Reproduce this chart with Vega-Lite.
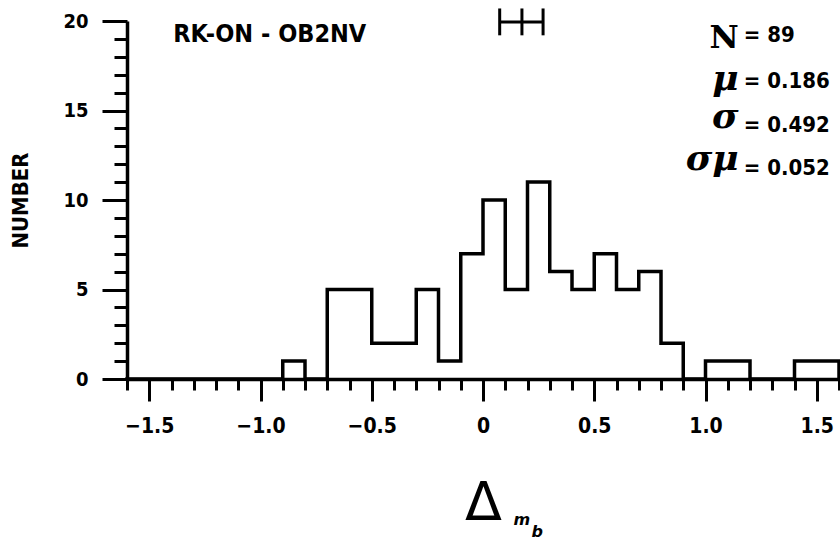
{
  "$schema": "https://vega.github.io/schema/vega-lite/v6.json",
  "width": 712,
  "height": 358,
  "autosize": {"type": "none"},
  "padding": {"left": 127, "top": 21, "right": 1, "bottom": 161},
  "background": "white",
  "config": {"view": {"stroke": null}, "axis": {"grid": false}},
  "datasets": {
    "hist": [
      {"edge": -1.6, "count": 0}, {"edge": -1.5, "count": 0}, {"edge": -1.4, "count": 0}, {"edge": -1.3, "count": 0},
      {"edge": -1.2, "count": 0}, {"edge": -1.1, "count": 0}, {"edge": -1.0, "count": 0}, {"edge": -0.9, "count": 1},
      {"edge": -0.8, "count": 0}, {"edge": -0.7, "count": 5}, {"edge": -0.6, "count": 5}, {"edge": -0.5, "count": 2},
      {"edge": -0.4, "count": 2}, {"edge": -0.3, "count": 5}, {"edge": -0.2, "count": 1}, {"edge": -0.1, "count": 7},
      {"edge": 0.0, "count": 10}, {"edge": 0.1, "count": 5}, {"edge": 0.2, "count": 11}, {"edge": 0.3, "count": 6},
      {"edge": 0.4, "count": 5}, {"edge": 0.5, "count": 7}, {"edge": 0.6, "count": 5}, {"edge": 0.7, "count": 6},
      {"edge": 0.8, "count": 2}, {"edge": 0.9, "count": 0}, {"edge": 1.0, "count": 1}, {"edge": 1.1, "count": 1},
      {"edge": 1.2, "count": 0}, {"edge": 1.3, "count": 0}, {"edge": 1.4, "count": 1}, {"edge": 1.5, "count": 1},
      {"edge": 1.6, "count": 0}
    ],
    "titleText": [{"x": -1.392, "y": 18.83, "t": "RK-ON  -  OB2NV"}],
    "symN": [{"x": 1.149, "y": 18.5, "t": "N"}],
    "symGreek": [
      {"x": 1.149, "y": 16.15, "t": "μ"},
      {"x": 1.149, "y": 14.02, "t": "σ"},
      {"x": 1.149, "y": 11.68, "t": "σμ"}
    ],
    "stats": [
      {"x": 1.172, "y": 18.83, "t": "= 89"},
      {"x": 1.172, "y": 16.26, "t": "= 0.186"},
      {"x": 1.172, "y": 13.8, "t": "= 0.492"},
      {"x": 1.172, "y": 11.4, "t": "= 0.052"}
    ],
    "errbar": [{"lo": 0.075, "mid": 0.175, "hi": 0.27, "y": 19.94}],
    "errticks": [{"x": 0.075}, {"x": 0.175}, {"x": 0.27}],
    "sub": [
      {"x": 0.137, "y": -8.16, "t": "m"},
      {"x": 0.218, "y": -8.83, "t": "b"}
    ]
  },
  "layer": [
    {
      "data": {"name": "hist"},
      "mark": {"type": "line", "interpolate": "step-after", "color": "black", "strokeWidth": 3.5, "strokeJoin": "miter", "strokeCap": "square"},
      "encoding": {
        "x": {
          "field": "edge", "type": "quantitative",
          "scale": {"domain": [-1.6, 1.6], "nice": false, "zero": false},
          "axis": {
            "values": [-1.6, -1.5, -1.4, -1.3, -1.2, -1.1, -1.0, -0.9, -0.8, -0.7, -0.6, -0.5, -0.4, -0.3, -0.2, -0.1, 0, 0.1, 0.2, 0.3, 0.4, 0.5, 0.6, 0.7, 0.8, 0.9, 1.0, 1.1, 1.2, 1.3, 1.4, 1.5, 1.6],
            "tickCount": 200,
            "labelExpr": "(abs(round(datum.value*10)) % 5 == 0 && abs(datum.value) <= 1.5) ? (datum.value == 0 ? '0' : format(datum.value, '.1f')) : ''",
            "tickSize": {"condition": {"test": "abs(round(datum.value*10)) % 5 == 0", "value": 22}, "value": 11},
            "tickWidth": 3,
            "tickColor": "black",
            "domainColor": "black",
            "domainWidth": 3.5,
            "labelFont": "DejaVu Sans Condensed",
            "labelFontWeight": "bold",
            "labelFontSize": 21,
            "labelColor": "black",
            "labelPadding": 14,
            "labelFlush": false,
            "labelOverlap": false,
            "labelBaseline": "top",
            "title": "Δ",
            "titleFont": "DejaVu Sans",
            "titleFontWeight": "normal",
            "titleFontSize": 54,
            "titleColor": "black",
            "titlePadding": 40
          }
        },
        "y": {
          "field": "count", "type": "quantitative",
          "scale": {"domain": [0, 20], "nice": false},
          "axis": {
            "values": [0, 1, 2, 3, 4, 5, 6, 7, 8, 9, 10, 11, 12, 13, 14, 15, 16, 17, 18, 19, 20],
            "tickCount": 200,
            "labelExpr": "datum.value % 5 == 0 ? format(datum.value, 'd') : ''",
            "tickSize": {"condition": {"test": "datum.value % 5 == 0", "value": 25}, "value": 13},
            "tickWidth": 3,
            "tickColor": "black",
            "domainColor": "black",
            "domainWidth": 3.5,
            "labelFont": "DejaVu Sans Condensed",
            "labelFontWeight": "bold",
            "labelFontSize": 20,
            "labelColor": "black",
            "labelPadding": 14,
            "labelFlush": false,
            "labelOverlap": false,
            "title": "NUMBER",
            "titleFont": "DejaVu Sans Condensed",
            "titleFontWeight": "bold",
            "titleFontSize": 22,
            "titleColor": "black",
            "titlePadding": 30
          }
        }
      }
    },
    {
      "data": {"name": "titleText"},
      "mark": {"type": "text", "align": "left", "baseline": "alphabetic", "font": "DejaVu Sans Condensed", "fontWeight": "bold", "fontSize": 25, "color": "black"},
      "encoding": {"x": {"field": "x", "type": "quantitative"}, "y": {"field": "y", "type": "quantitative"}, "text": {"field": "t"}}
    },
    {
      "data": {"name": "symN"},
      "mark": {"type": "text", "align": "right", "baseline": "alphabetic", "font": "DejaVu Serif", "fontWeight": "bold", "fontSize": 32, "color": "black"},
      "encoding": {"x": {"field": "x", "type": "quantitative"}, "y": {"field": "y", "type": "quantitative"}, "text": {"field": "t"}}
    },
    {
      "data": {"name": "symGreek"},
      "mark": {"type": "text", "align": "right", "baseline": "alphabetic", "font": "DejaVu Serif", "fontWeight": "bold", "fontStyle": "italic", "fontSize": 36, "color": "black"},
      "encoding": {"x": {"field": "x", "type": "quantitative"}, "y": {"field": "y", "type": "quantitative"}, "text": {"field": "t"}}
    },
    {
      "data": {"name": "stats"},
      "mark": {"type": "text", "align": "left", "baseline": "alphabetic", "font": "DejaVu Sans Condensed", "fontWeight": "bold", "fontSize": 22, "color": "black"},
      "encoding": {"x": {"field": "x", "type": "quantitative"}, "y": {"field": "y", "type": "quantitative"}, "text": {"field": "t"}}
    },
    {
      "data": {"name": "errbar"},
      "mark": {"type": "rule", "color": "black", "strokeWidth": 3},
      "encoding": {"x": {"field": "lo", "type": "quantitative"}, "x2": {"field": "hi"}, "y": {"field": "y", "type": "quantitative"}}
    },
    {
      "data": {"name": "errticks"},
      "mark": {"type": "rule", "color": "black", "strokeWidth": 3},
      "encoding": {"x": {"field": "x", "type": "quantitative"}, "y": {"datum": 19.2}, "y2": {"datum": 20.7}}
    },
    {
      "data": {"name": "sub"},
      "mark": {"type": "text", "align": "left", "baseline": "alphabetic", "font": "DejaVu Sans", "fontWeight": "bold", "fontStyle": "italic", "fontSize": 16, "color": "black"},
      "encoding": {"x": {"field": "x", "type": "quantitative"}, "y": {"field": "y", "type": "quantitative"}, "text": {"field": "t"}}
    }
  ]
}
